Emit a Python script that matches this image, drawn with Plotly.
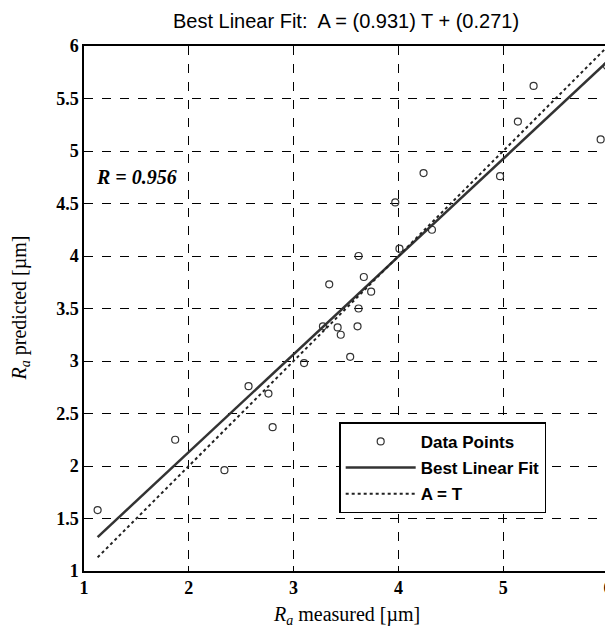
import plotly.graph_objects as go

# Data
measured = [1.13, 1.87, 2.34, 2.57, 2.76, 2.80, 3.10, 3.28, 3.42, 3.45, 3.54, 3.61,
            3.62, 3.34, 3.62, 3.67, 3.74, 4.01, 3.97, 4.32, 4.24, 4.97, 5.14, 5.29,
            5.93, 5.99]
predicted = [1.58, 2.25, 1.96, 2.76, 2.69, 2.37, 2.98, 3.33, 3.32, 3.25, 3.04, 3.33,
             3.50, 3.73, 4.00, 3.80, 3.66, 4.07, 4.51, 4.25, 4.79, 4.76, 5.28, 5.62,
             5.11, 5.81]
slope = 0.931
intercept = 0.271
r_value = 0.956
x_ticks = [1, 2, 3, 4, 5, 6]
y_ticks = [1, 1.5, 2, 2.5, 3, 3.5, 4, 4.5, 5, 5.5, 6]

xmin, xmax = min(measured), max(measured)
fit_x = [xmin, xmax]
fit_y = [slope * v + intercept for v in fit_x]

fig = go.Figure()
fig.add_trace(go.Scatter(
    x=measured, y=predicted, mode="markers", name="Data Points",
    legendgroup="a",
    marker=dict(symbol="circle-open", size=7, color="#333333", line=dict(width=1.2)),
))
fig.add_trace(go.Scatter(
    x=fit_x, y=fit_y, mode="lines", name="Best Linear Fit", legendgroup="b",
    line=dict(color="#333333", width=2.5),
))
fig.add_trace(go.Scatter(
    x=fit_x, y=fit_x, mode="lines", name="A = T", legendgroup="c",
    line=dict(color="#222222", width=2, dash="dot"),
))

tick_font = dict(family="Liberation Serif", size=18, color="black", weight="bold")
axis_common = dict(
    showline=True, linecolor="black", linewidth=1.5, mirror=True,
    showgrid=True, gridcolor="black", gridwidth=1, griddash="dash",
    zeroline=False, ticks="inside", ticklen=5, tickcolor="black",
    tickfont=tick_font, automargin=False,
)

fig.update_xaxes(range=[1, 6], tickvals=x_ticks, ticktext=[str(v) for v in x_ticks],
                 **axis_common)
fig.update_yaxes(range=[1, 6], tickvals=y_ticks, ticktext=[f"{v:g}" for v in y_ticks],
                 **axis_common)

title_font = dict(family="Liberation Serif", size=20, color="black")
fig.add_annotation(x=0.5, y=0, xref="paper", yref="paper", xanchor="center",
                   yanchor="middle", yshift=-44, showarrow=False,
                   text="<i>R<sub>a</sub></i> measured [µm]", font=title_font)
fig.add_annotation(x=0, y=0.5, xref="paper", yref="paper", xanchor="center",
                   yanchor="middle", xshift=-64, textangle=-90, showarrow=False,
                   text="<i>R<sub>a</sub></i> predicted [µm]", font=title_font)

fig.add_annotation(x=1.10, y=4.75, xref="x", yref="y", xanchor="left", yanchor="middle",
                   text=f"<b><i>R = {r_value}</i></b>", showarrow=False,
                   font=dict(family="Liberation Serif", size=20, color="black"))

# page body adds an 8px offset, so the figure is drawn 8px smaller
fig.update_layout(
    width=605, height=620,
    margin=dict(l=76, r=5, t=38, b=57),
    paper_bgcolor="white", plot_bgcolor="white",
    title=dict(text=f"Best Linear Fit:  A = ({slope}) T + ({intercept})",
               x=0.5587, xanchor="center", y=0.979, yanchor="middle",
               font=dict(family="Liberation Sans", size=20, color="black")),
    legend=dict(x=0.487, y=0.2830, xanchor="left", yanchor="top",
                bgcolor="white", bordercolor="black", borderwidth=1.5,
                font=dict(family="Liberation Sans", size=17, color="black", weight="bold"),
                itemwidth=70, tracegroupgap=1, traceorder="grouped"),
    showlegend=True,
)

fig.write_html("out.html")
